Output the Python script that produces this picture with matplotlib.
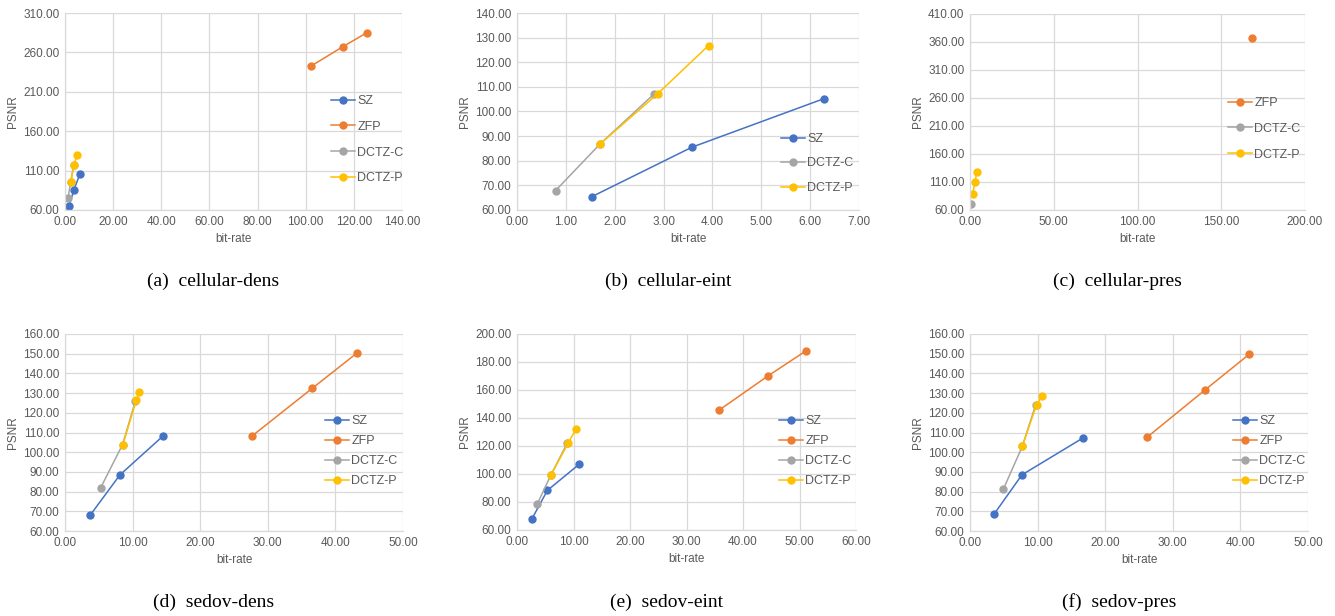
import matplotlib
matplotlib.use('Agg')
import numpy as np
import matplotlib.pyplot as plt
from matplotlib.ticker import FixedLocator, FormatStrFormatter

# colours of the four compressors
c_sz = '#4472C4'
c_zfp = '#ED7D31'
c_dctzc = '#A5A5A5'
c_dctzp = '#FFC000'

# (a) cellular-dens
a_sz_x = [1.7, 3.7, 6.2]
a_sz_y = [65.5, 85.4, 105.8]
a_zfp_x = [102.4, 115.3, 125.4]
a_zfp_y = [243.0, 267.0, 285.0]
a_dctzc_x = [1.25, 2.4, 3.6]
a_dctzc_y = [75.3, 95.6, 116.8]
a_dctzp_x = [2.4, 3.6, 5.1]
a_dctzp_y = [95.6, 116.8, 129.9]

# (b) cellular-eint
b_sz_x = [1.53, 3.58, 6.28]
b_sz_y = [65.4, 85.5, 105.2]
b_dctzc_x = [0.79, 1.70, 2.81]
b_dctzc_y = [67.9, 86.8, 107.2]
b_dctzp_x = [1.70, 2.88, 3.92]
b_dctzp_y = [86.8, 107.2, 126.8]

# (c) cellular-pres
c_zfp_x = [168.6]
c_zfp_y = [366.5]
c_dctzc_x = [0.6]
c_dctzc_y = [70.0]
c_dctzp_x = [1.6, 3.0, 4.0]
c_dctzp_y = [89.2, 110.0, 127.9]

# (d) sedov-dens
d_sz_x = [3.74, 8.13, 14.53]
d_sz_y = [68.1, 88.5, 108.3]
d_zfp_x = [27.7, 36.6, 43.25]
d_zfp_y = [108.3, 132.5, 150.5]
d_dctzc_x = [5.27, 8.52, 10.4]
d_dctzc_y = [81.9, 103.9, 125.8]
d_dctzp_x = [8.57, 10.54, 10.99]
d_dctzp_y = [103.9, 126.3, 130.5]

# (e) sedov-eint
e_sz_x = [2.66, 5.38, 11.05]
e_sz_y = [68.1, 88.3, 107.1]
e_zfp_x = [35.8, 44.4, 51.2]
e_zfp_y = [145.7, 170.0, 188.1]
e_dctzc_x = [3.55, 5.97, 8.87]
e_dctzc_y = [78.3, 99.0, 121.9]
e_dctzp_x = [5.97, 9.04, 10.4]
e_dctzp_y = [99.0, 121.9, 131.9]

# (f) sedov-pres
f_sz_x = [3.55, 7.68, 16.75]
f_sz_y = [68.5, 88.5, 107.3]
f_zfp_x = [26.2, 34.8, 41.3]
f_zfp_y = [107.6, 131.7, 149.7]
f_dctzc_x = [4.93, 7.73, 9.7]
f_dctzc_y = [81.2, 102.9, 123.9]
f_dctzp_x = [7.73, 9.85, 10.69]
f_dctzp_y = [102.9, 124.1, 128.5]

W, H = 1335, 616
fig = plt.figure(figsize=(W / 100, H / 100), dpi=100)
plt.rcParams['font.family'] = ['Liberation Sans', 'DejaVu Sans']

txt = '#595959'
grid = '#D9D9D9'


def panel(box, series, xlim, xstep, ylim, ystep, leg_xy, leg_sp, caption, cap_y):
    l, t, r, b = box
    ax = fig.add_axes([l / W, 1 - b / H, (r - l) / W, (b - t) / H])
    for x, y, col, lab in series:
        ax.plot(x, y, color=col, lw=1.1, marker='o', markersize=5, label=lab)
    ax.set_xlim(*xlim)
    ax.set_ylim(*ylim)
    # excel style: ticks start at the axis minimum
    ax.xaxis.set_major_locator(FixedLocator(np.arange(xlim[0], xlim[1] + xstep / 2, xstep)))
    ax.yaxis.set_major_locator(FixedLocator(np.arange(ylim[0], ylim[1] + ystep / 2, ystep)))
    ax.xaxis.set_major_formatter(FormatStrFormatter('%.2f'))
    ax.yaxis.set_major_formatter(FormatStrFormatter('%.2f'))
    ax.grid(True, color=grid, lw=0.9)
    ax.set_axisbelow(True)
    for s in ['top', 'right']:
        ax.spines[s].set_visible(False)
    for s in ['left', 'bottom']:
        ax.spines[s].set_color(grid)
        ax.spines[s].set_linewidth(0.9)
    ax.tick_params(length=0, labelsize=8.5, labelcolor=txt, pad=4)
    ax.set_xlabel('bit-rate', fontsize=8.5, color=txt, labelpad=4)
    ax.set_ylabel('PSNR', fontsize=8.5, color=txt, labelpad=3)
    ax.legend(loc='upper left', bbox_to_anchor=(leg_xy[0] / W, 1 - leg_xy[1] / H),
              bbox_transform=fig.transFigure, frameon=False, fontsize=9,
              borderpad=0, borderaxespad=0, handlelength=1.9, handletextpad=0.2,
              labelspacing=leg_sp, labelcolor=txt)
    fig.text(((l + r) / 2 - 20) / W, 1 - cap_y / H, caption, ha='center', va='center',
             fontsize=14, family='Liberation Serif')
    return ax


panel((65, 13, 402, 210),
      [(a_sz_x, a_sz_y, c_sz, 'SZ'), (a_zfp_x, a_zfp_y, c_zfp, 'ZFP'),
       (a_dctzc_x, a_dctzc_y, c_dctzc, 'DCTZ-C'), (a_dctzp_x, a_dctzp_y, c_dctzp, 'DCTZ-P')],
      (0, 140), 20, (60, 310), 50, (331, 95), 1.1, '(a)  cellular-dens', 281)

panel((517, 13, 859, 210),
      [(b_sz_x, b_sz_y, c_sz, 'SZ'), (b_dctzc_x, b_dctzc_y, c_dctzc, 'DCTZ-C'),
       (b_dctzp_x, b_dctzp_y, c_dctzp, 'DCTZ-P')],
      (0, 7), 1, (60, 140), 10, (781, 133), 1.0, '(b)  cellular-eint', 281)

panel((970, 14, 1305, 210),
      [(c_zfp_x, c_zfp_y, c_zfp, 'ZFP'), (c_dctzc_x, c_dctzc_y, c_dctzc, 'DCTZ-C'),
       (c_dctzp_x, c_dctzp_y, c_dctzp, 'DCTZ-P')],
      (0, 200), 50, (60, 410), 50, (1228, 97), 1.1, '(c)  cellular-pres', 281)

panel((65, 334, 403, 531),
      [(d_sz_x, d_sz_y, c_sz, 'SZ'), (d_zfp_x, d_zfp_y, c_zfp, 'ZFP'),
       (d_dctzc_x, d_dctzc_y, c_dctzc, 'DCTZ-C'), (d_dctzp_x, d_dctzp_y, c_dctzp, 'DCTZ-P')],
      (0, 50), 10, (60, 160), 10, (325, 415), 0.64, '(d)  sedov-dens', 602)

panel((517, 334, 856, 530),
      [(e_sz_x, e_sz_y, c_sz, 'SZ'), (e_zfp_x, e_zfp_y, c_zfp, 'ZFP'),
       (e_dctzc_x, e_dctzc_y, c_dctzc, 'DCTZ-C'), (e_dctzp_x, e_dctzp_y, c_dctzp, 'DCTZ-P')],
      (0, 60), 10, (60, 200), 20, (779, 415), 0.64, '(e)  sedov-eint', 602)

panel((970, 334, 1308, 531),
      [(f_sz_x, f_sz_y, c_sz, 'SZ'), (f_zfp_x, f_zfp_y, c_zfp, 'ZFP'),
       (f_dctzc_x, f_dctzc_y, c_dctzc, 'DCTZ-C'), (f_dctzp_x, f_dctzp_y, c_dctzp, 'DCTZ-P')],
      (0, 50), 10, (60, 160), 10, (1233, 415), 0.64, '(f)  sedov-pres', 602)

fig.savefig('out.png', dpi=100)
